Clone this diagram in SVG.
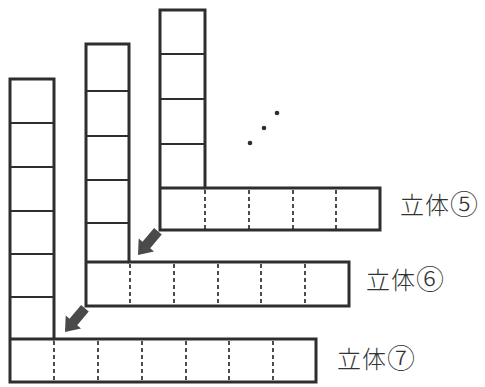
<svg xmlns="http://www.w3.org/2000/svg" width="485" height="387" viewBox="0 0 485 387">
<style>
.outline{fill:#fff;stroke:#2e2e2e;stroke-width:3;stroke-linejoin:miter}
.solid{stroke:#2e2e2e;stroke-width:2;fill:none}
.edge{stroke:#2e2e2e;stroke-width:3;fill:none}
.dash{stroke:#2e2e2e;stroke-width:1.7;stroke-dasharray:4,3;fill:none}
.lbl{font-family:"Noto Sans CJK JP","Noto Sans CJK SC",sans-serif;font-size:24px;font-weight:300;fill:#333;letter-spacing:1px}
.num{font-size:28px}
.arr{fill:#4a4a4a}
.dot{fill:#2e2e2e}
</style>
<rect width="485" height="387" fill="#fff"/>
<g id="solid5">
<polygon class="outline" points="160,10 205,10 205,188 380,188 380,230 160,230"/>
<path class="solid" d="M160,54H205M160,99H205M160,144H205"/>
<path class="edge" d="M160,188H205"/>
<path class="dash" d="M205,190V229M249,190V229M293,190V229M336,190V229"/>
<text class="lbl" x="400" y="214">立体<tspan class="num" dy="1">⑤</tspan></text>
</g>
<g id="solid6">
<polygon class="outline" points="86,44 129,44 129,262 349,262 349,306 86,306"/>
<path class="solid" d="M86,91H129M86,136H129M86,180H129M86,223H129"/>
<path class="edge" d="M86,262H129"/>
<path class="dash" d="M130,264V305M174,264V305M218,264V305M261,264V305M305,264V305"/>
<text class="lbl" x="366" y="289">立体<tspan class="num" dy="1">⑥</tspan></text>
</g>
<g id="solid7">
<polygon class="outline" points="10,79 54,79 54,339 316,339 316,382 10,382"/>
<path class="solid" d="M10,123H54M10,167H54M10,211H54M10,254H54M10,297H54"/>
<path class="edge" d="M10,339H54"/>
<path class="dash" d="M54,341V381M98,341V381M142,341V381M186,341V381M229,341V381M273,341V381"/>
<text class="lbl" x="337" y="368">立体<tspan class="num" dy="1">⑦</tspan></text>
</g>
<g id="ellipsis">
<circle class="dot" cx="250" cy="143" r="2.3"/>
<circle class="dot" cx="264" cy="128" r="2.3"/>
<circle class="dot" cx="277" cy="113" r="2.3"/>
</g>
<g id="connectors">
<polygon class="arr" transform="translate(138,255) rotate(130)" points="0,0 -13,-10 -13,-5 -31,-5 -31,5 -13,5 -13,10"/>
<polygon class="arr" transform="translate(65,332) rotate(130)" points="0,0 -13,-10 -13,-5 -31,-5 -31,5 -13,5 -13,10"/>
</g>
</svg>
